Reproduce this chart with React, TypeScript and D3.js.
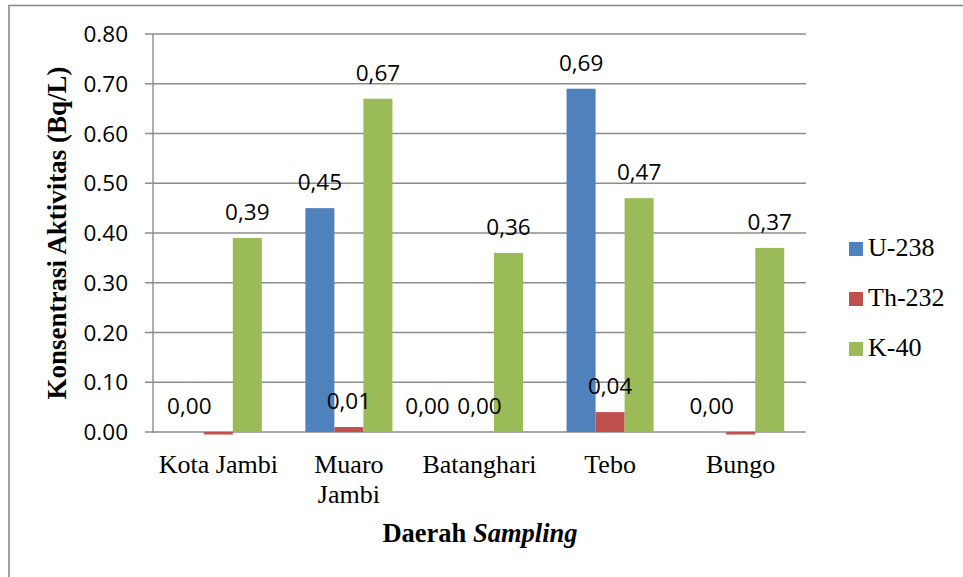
import React from "react";
import * as d3 from "d3";

const categories = ["Kota Jambi", "Muaro Jambi", "Batanghari", "Tebo", "Bungo"];
const categoryLines = [["Kota Jambi"], ["Muaro", "Jambi"], ["Batanghari"], ["Tebo"], ["Bungo"]];
const seriesNames = ["U-238", "Th-232", "K-40"];
const u238 = [0.0, 0.45, 0.0, 0.69, 0.0];
const th232 = [-0.005, 0.01, 0.0, 0.04, -0.005];
const k40 = [0.39, 0.67, 0.36, 0.47, 0.37];
const seriesColors = ["#4F81BD", "#C0504D", "#9BBB59"];
const yTicks = [0, 0.1, 0.2, 0.3, 0.4, 0.5, 0.6, 0.7, 0.8];

const W = 963;
const H = 577;
const plot = { left: 153, right: 806, top: 34, bottom: 432 };

const numFont = "'Open Sans', 'Liberation Sans', sans-serif";
const serif = "'Liberation Serif', 'Times New Roman', serif";

// horizontal nudges for labels that would otherwise collide
const labelNudge: Record<string, number> = { "Batanghari|U-238": -23 };

export default function App() {
  const values = [u238, th232, k40];

  const x0 = d3
    .scaleBand<string>()
    .domain(categories)
    .range([plot.left, plot.right])
    .paddingInner(1 / 3)
    .paddingOuter(1 / 6);

  const x1 = d3
    .scaleBand<string>()
    .domain(seriesNames)
    .range([0, x0.bandwidth()]);

  const y = d3.scaleLinear().domain([0, 0.8]).range([plot.bottom, plot.top]);

  const fmtTick = d3.format(".2f");
  const fmtLabel = (v: number) => d3.format(".2f")(v).replace(".", ",");

  const gridColor = "#8c8c8c";

  return (
    <svg
      width={W}
      height={H}
      style={{ position: "absolute", left: 0, top: 0, background: "#fff" }}
    >
      <rect x={0} y={0} width={W} height={H} fill="#fff" />
      {/* chart frame */}
      <rect
        x={9}
        y={5.5}
        width={970}
        height={600}
        fill="none"
        stroke="#8a8a8a"
        strokeWidth={1.6}
      />

      {/* gridlines and y ticks */}
      {yTicks.map((t) => (
        <g key={t}>
          <line
            x1={plot.left - 8}
            x2={plot.right}
            y1={y(t)}
            y2={y(t)}
            stroke={gridColor}
            strokeWidth={1.4}
          />
          <text
            x={128}
            y={y(t) + 8}
            textAnchor="end"
            fontFamily={numFont}
            fontSize={22.5}
            fill="#000"
          >
            {fmtTick(t)}
          </text>
        </g>
      ))}
      <line
        x1={plot.left}
        x2={plot.left}
        y1={plot.top}
        y2={plot.bottom + 1}
        stroke={gridColor}
        strokeWidth={1.4}
      />

      {/* bars */}
      {categories.map((c, i) => (
        <g key={c} transform={`translate(${x0(c)},0)`}>
          {seriesNames.map((s, j) => {
            const v = values[j][i];
            const y0 = y(0);
            const yv = y(v);
            return (
              <rect
                key={s}
                x={x1(s)}
                y={Math.min(y0, yv)}
                width={x1.bandwidth()}
                height={Math.abs(yv - y0)}
                fill={seriesColors[j]}
              />
            );
          })}
        </g>
      ))}

      {/* data labels */}
      {categories.map((c, i) => (
        <g key={c} transform={`translate(${x0(c)},0)`}>
          {seriesNames.map((s, j) => {
            const v = values[j][i];
            if (v < 0) return null;
            const nudge = labelNudge[`${c}|${s}`] ?? 0;
            return (
              <text
                key={s}
                x={(x1(s) as number) + x1.bandwidth() / 2 + nudge}
                y={y(v) - 18}
                textAnchor="middle"
                fontFamily={numFont}
                fontSize={22.5}
                fill="#000"
              >
                {fmtLabel(v)}
              </text>
            );
          })}
        </g>
      ))}

      {/* category labels */}
      {categories.map((c, i) => (
        <text
          key={c}
          x={(x0(c) as number) + x0.bandwidth() / 2}
          y={473}
          textAnchor="middle"
          fontFamily={serif}
          fontSize={26}
          fill="#000"
        >
          {categoryLines[i].map((line, k) => (
            <tspan
              key={k}
              x={(x0(c) as number) + x0.bandwidth() / 2}
              dy={k === 0 ? 0 : 30}
            >
              {line}
            </tspan>
          ))}
        </text>
      ))}

      {/* axis titles */}
      <text
        x={480}
        y={542}
        textAnchor="middle"
        fontFamily={serif}
        fontSize={26.5}
        fontWeight="bold"
        fill="#000"
      >
        Daerah <tspan fontStyle="italic">Sampling</tspan>
      </text>
      <text
        transform={`translate(66,${(plot.top + plot.bottom) / 2}) rotate(-90)`}
        textAnchor="middle"
        fontFamily={serif}
        fontSize={27}
        fontWeight="bold"
        fill="#000"
      >
        Konsentrasi Aktivitas (Bq/L)
      </text>

      {/* legend */}
      {seriesNames.map((s, j) => (
        <g key={s} transform={`translate(849,${242 + j * 50})`}>
          <rect x={0} y={0} width={14} height={14} fill={seriesColors[j]} />
          <text x={19} y={14} fontFamily={serif} fontSize={26} fill="#000">
            {s}
          </text>
        </g>
      ))}
    </svg>
  );
}
